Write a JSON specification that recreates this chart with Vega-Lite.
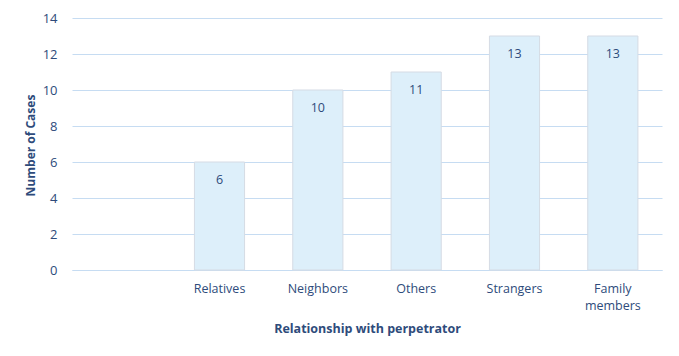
{
  "$schema": "https://vega.github.io/schema/vega-lite/v6.json",
  "width": 590,
  "height": 252,
  "autosize": {"type": "none"},
  "padding": {"left": 72, "top": 18, "right": 17, "bottom": 86},
  "background": "white",
  "config": {
    "view": {"stroke": null},
    "font": "Open Sans",
    "axis": {"labelFont": "Open Sans", "titleFont": "Open Sans", "labelColor": "#2e4b7b", "titleColor": "#2e4b7b"}
  },
  "data": {
    "values": [
      {"relationship": "Relatives", "cases": 6},
      {"relationship": "Neighbors", "cases": 10},
      {"relationship": "Others", "cases": 11},
      {"relationship": "Strangers", "cases": 13},
      {"relationship": "Family members", "cases": 13}
    ]
  },
  "encoding": {
    "x": {
      "field": "relationship",
      "type": "nominal",
      "sort": null,
      "scale": {"domain": [" ", "Relatives", "Neighbors", "Others", "Strangers", "Family members"], "paddingInner": 0.49, "paddingOuter": 0.245},
      "axis": {
        "title": "Relationship with perpetrator",
        "titleFontSize": 12.5,
        "titleFontWeight": "bold",
        "titleBaseline": "middle",
        "titleY": 58,
        "labelAngle": 0,
        "labelFontSize": 12.5,
        "labelPadding": 12,
        "labelBaseline": "top",
        "labelLineHeight": 17,
        "labelExpr": "split(datum.label, ' ')",
        "ticks": false,
        "domainColor": "#c6dcf2",
        "domainWidth": 1
      }
    },
    "y": {
      "field": "cases",
      "type": "quantitative",
      "scale": {"domain": [0, 14]},
      "axis": {
        "title": "Number of Cases",
        "titleFontSize": 12,
        "titleFontWeight": "bold",
        "titleBaseline": "middle",
        "titleX": -42,
        "titleY": 127,
        "values": [0, 2, 4, 6, 8, 10, 12, 14],
        "labelFontSize": 13,
        "labelPadding": 15,
        "ticks": false,
        "domain": false,
        "gridColor": "#c6dcf2",
        "gridWidth": 1
      }
    }
  },
  "layer": [
    {
      "mark": {"type": "bar", "fill": "#ddeffa", "stroke": "#d5dbe4", "strokeWidth": 1}
    },
    {
      "mark": {"type": "text", "baseline": "middle", "dy": 18, "fontSize": 12.5, "color": "#2e4b7b", "font": "Open Sans"},
      "encoding": {"text": {"field": "cases", "type": "quantitative"}}
    }
  ]
}
